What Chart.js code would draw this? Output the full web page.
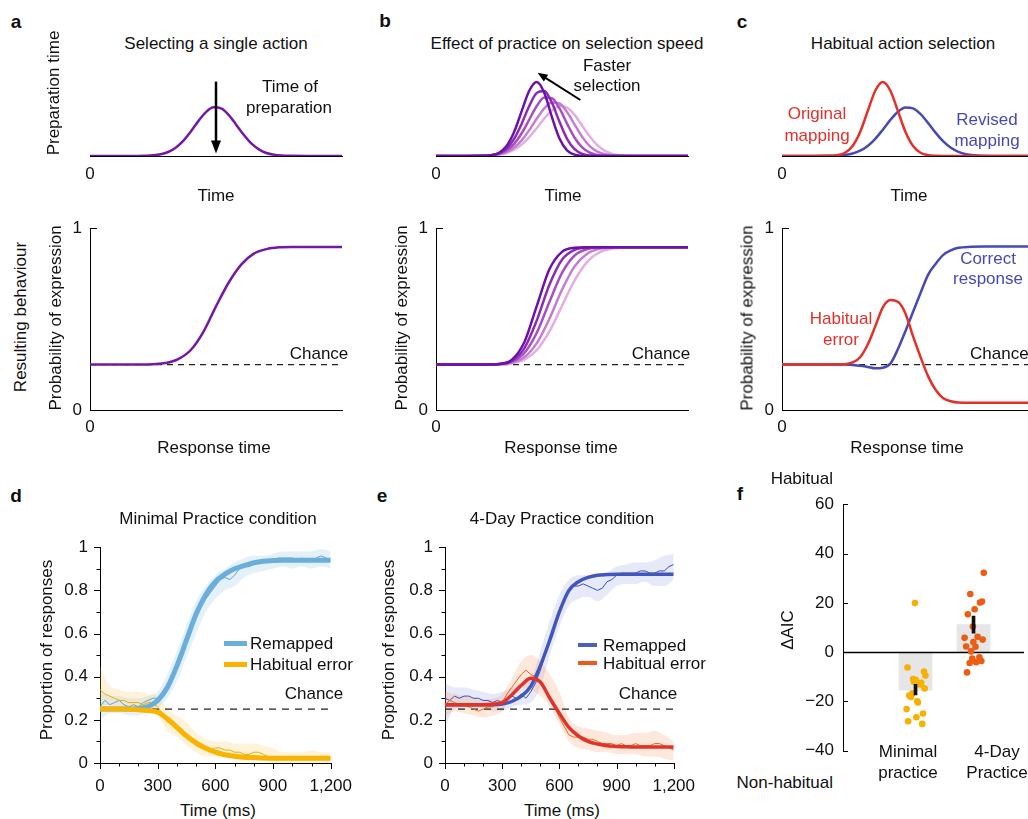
<!DOCTYPE html>
<html><head><meta charset="utf-8">
<script src="https://cdn.jsdelivr.net/npm/chart.js@4.4.0/dist/chart.umd.min.js"></script>
<style>
html,body{margin:0;padding:0;background:#fff}
body{width:1028px;height:819px;position:relative;overflow:hidden;font-family:'Liberation Sans',Arial,Helvetica,sans-serif;color:#111}
canvas{position:absolute}
</style></head><body>
<script>
// ---------------- DATA ----------------
// top row (preparation-time schematics), arbitrary time units 0..100
const gridTop = [0,10,19,22,25,28,31,34,37,40,43,46,49,52,55,58,61,64,67,70,73,76,79,90,100];
const prepA   = [0,0,0.001,0.003,0.008,0.021,0.050,0.104,0.190,0.306,0.436,0.548,0.608,0.595,0.515,0.392,0.265,0.157,0.083,0.038,0.016,0.006,0.002,0,0];
const prepB1  = [0,0,0.002,0.010,0.041,0.125,0.300,0.561,0.816,0.925,0.788,0.487,0.219,0.071,0.017,0.003,0,0,0,0,0,0,0,0,0];
const prepB2  = [0,0,0.002,0.010,0.033,0.093,0.214,0.404,0.625,0.789,0.814,0.665,0.427,0.215,0.085,0.026,0.006,0.001,0,0,0,0,0,0,0];
const prepB3  = [0,0,0.002,0.009,0.026,0.068,0.151,0.284,0.456,0.625,0.730,0.723,0.595,0.405,0.228,0.107,0.041,0.013,0.003,0.001,0,0,0,0,0];
const prepB4  = [0,0,0.002,0.007,0.021,0.049,0.105,0.196,0.323,0.468,0.596,0.668,0.656,0.550,0.393,0.239,0.124,0.055,0.021,0.007,0.002,0,0,0,0];
const prepB5  = [0,0,0.002,0.007,0.017,0.038,0.078,0.142,0.235,0.351,0.471,0.570,0.621,0.606,0.514,0.379,0.243,0.135,0.065,0.027,0.010,0.003,0.001,0,0];
const prepOriginal = [0,0,0.002,0.010,0.041,0.125,0.300,0.561,0.816,0.925,0.816,0.561,0.300,0.125,0.041,0.010,0.002,0,0,0,0,0,0,0,0];
const prepRevised  = [0,0,0.002,0.005,0.013,0.031,0.066,0.126,0.215,0.329,0.451,0.553,0.606,0.595,0.523,0.411,0.289,0.182,0.102,0.052,0.023,0.009,0.003,0,0];
// middle row (probability of expression)
const gridMid = [0,10,20,25,30,35,40,45,50,55,60,65,70,75,80,90,100];
const probA  = [0.25,0.25,0.25,0.252,0.258,0.28,0.33,0.43,0.57,0.70,0.80,0.86,0.885,0.895,0.897,0.897,0.897];
const probB1 = [0.25,0.25,0.25,0.253,0.275,0.371,0.573,0.774,0.870,0.892,0.895,0.895,0.895,0.895,0.895,0.895,0.895];
const probB2 = [0.25,0.25,0.25,0.253,0.270,0.338,0.493,0.689,0.827,0.881,0.893,0.895,0.895,0.895,0.895,0.895,0.895];
const probB3 = [0.25,0.25,0.25,0.252,0.265,0.312,0.425,0.594,0.754,0.850,0.885,0.894,0.895,0.895,0.895,0.895,0.895];
const probB4 = [0.25,0.25,0.25,0.252,0.260,0.290,0.368,0.502,0.661,0.790,0.860,0.887,0.894,0.895,0.895,0.895,0.895];
const probB5 = [0.25,0.25,0.25,0.251,0.257,0.277,0.330,0.432,0.573,0.713,0.815,0.868,0.888,0.894,0.895,0.895,0.895];
const gridMidC = [0,10,20,25,28,31,34,37,40,43,46,49,52,55,58,61,64,67,70,75,80,90,100];
const probCorrect  = [0.25,0.25,0.25,0.25,0.248,0.243,0.237,0.229,0.232,0.255,0.335,0.435,0.54,0.645,0.745,0.805,0.853,0.878,0.892,0.898,0.90,0.90,0.90];
const probHabitual = [0.25,0.25,0.25,0.252,0.262,0.29,0.36,0.46,0.565,0.605,0.595,0.53,0.405,0.29,0.185,0.11,0.065,0.048,0.041,0.04,0.04,0.04,0.04];
const chanceLevel = 0.25;
// bottom row: time in ms
const tFit = [0,50,100,150,200,250,300,350,400,450,500,550,600,650,700,750,800,850,900,950,1000,1050,1100,1150,1200];
const tRaw = [0,25,50,75,100,125,150,175,200,225,250,275,300,325,350,375,400,425,450,475,500,525,550,575,600,625,650,675,700,725,750,775,800,825,850,875,900,925,950,975,1000,1025,1050,1075,1100,1125,1150,1175,1200];
const xMajor = [0,300,600,900,1200];
const xMinor = [100,200,400,500,700,800,1000,1100];
const yMajor = [0,0.2,0.4,0.6,0.8,1];
const yMinor = [0.1,0.3,0.5,0.7,0.9];
// d: minimal practice
const dRemapFit = [0.25,0.25,0.25,0.25,0.253,0.262,0.29,0.35,0.45,0.57,0.69,0.78,0.84,0.875,0.90,0.915,0.928,0.935,0.938,0.94,0.94,0.94,0.94,0.94,0.94];
const dHabFit   = [0.25,0.25,0.25,0.249,0.247,0.243,0.235,0.205,0.165,0.125,0.093,0.068,0.05,0.038,0.031,0.027,0.025,0.023,0.022,0.022,0.022,0.022,0.022,0.022,0.022];
const dRemapRaw = [0.26,0.29,0.27,0.28,0.29,0.27,0.26,0.27,0.26,0.28,0.29,0.30,0.30,0.33,0.36,0.41,0.46,0.51,0.57,0.63,0.68,0.72,0.76,0.79,0.82,0.85,0.86,0.85,0.87,0.90,0.91,0.91,0.92,0.93,0.93,0.93,0.94,0.95,0.95,0.95,0.95,0.94,0.95,0.94,0.94,0.95,0.96,0.95,0.94];
const dHabRaw   = [0.34,0.32,0.31,0.30,0.29,0.29,0.28,0.28,0.28,0.27,0.28,0.28,0.26,0.23,0.19,0.18,0.17,0.16,0.13,0.10,0.08,0.07,0.06,0.06,0.07,0.07,0.06,0.06,0.05,0.05,0.04,0.04,0.05,0.05,0.04,0.03,0.03,0.02,0.02,0.02,0.02,0.02,0.02,0.02,0.02,0.02,0.02,0.02,0.02];
const dRemapHi = [0.33,0.31,0.31,0.30,0.30,0.31,0.33,0.41,0.52,0.64,0.75,0.82,0.87,0.90,0.93,0.95,0.96,0.96,0.97,0.98,0.98,0.98,0.98,0.99,0.98];
const dRemapLo = [0.20,0.23,0.23,0.22,0.22,0.24,0.26,0.30,0.38,0.49,0.60,0.70,0.76,0.80,0.82,0.86,0.88,0.89,0.90,0.91,0.90,0.91,0.90,0.91,0.90];
const dHabHi = [0.45,0.36,0.34,0.33,0.33,0.32,0.31,0.25,0.22,0.19,0.14,0.11,0.10,0.10,0.09,0.09,0.09,0.08,0.07,0.05,0.05,0.05,0.06,0.05,0.05];
const dHabLo = [0.25,0.27,0.25,0.24,0.24,0.24,0.22,0.15,0.12,0.08,0.05,0.03,0.03,0.03,0.02,0.01,0.01,0.01,0,0,0,0,0,0,0];
// e: 4-day practice
const eRemapFit = [0.27,0.27,0.27,0.27,0.27,0.27,0.273,0.285,0.31,0.355,0.45,0.57,0.70,0.80,0.84,0.86,0.87,0.873,0.875,0.875,0.875,0.875,0.875,0.875,0.875];
const eHabFit   = [0.27,0.27,0.27,0.27,0.27,0.272,0.28,0.315,0.36,0.393,0.375,0.30,0.23,0.165,0.125,0.10,0.088,0.08,0.077,0.075,0.074,0.074,0.074,0.074,0.074];
const eRemapRaw = [0.30,0.29,0.31,0.30,0.31,0.31,0.30,0.30,0.29,0.29,0.28,0.29,0.28,0.30,0.31,0.30,0.32,0.30,0.33,0.37,0.43,0.50,0.58,0.64,0.71,0.76,0.79,0.82,0.82,0.83,0.82,0.81,0.80,0.81,0.84,0.85,0.87,0.88,0.88,0.88,0.88,0.89,0.89,0.88,0.88,0.89,0.89,0.91,0.92];
const eHabRaw   = [0.27,0.29,0.28,0.27,0.27,0.26,0.25,0.24,0.25,0.26,0.26,0.28,0.28,0.32,0.35,0.38,0.41,0.43,0.41,0.40,0.38,0.35,0.30,0.26,0.21,0.17,0.13,0.12,0.12,0.12,0.11,0.11,0.10,0.09,0.09,0.09,0.08,0.09,0.08,0.08,0.09,0.08,0.08,0.08,0.09,0.09,0.08,0.07,0.06];
const eRemapHi = [0.37,0.35,0.35,0.34,0.33,0.32,0.33,0.35,0.37,0.39,0.52,0.66,0.78,0.85,0.87,0.87,0.86,0.88,0.91,0.92,0.93,0.93,0.94,0.96,0.97];
const eRemapLo = [0.17,0.25,0.26,0.26,0.25,0.24,0.24,0.26,0.27,0.28,0.35,0.50,0.63,0.73,0.76,0.77,0.75,0.78,0.82,0.83,0.83,0.84,0.82,0.82,0.85];
const eHabHi = [0.33,0.32,0.31,0.30,0.29,0.30,0.32,0.39,0.47,0.50,0.47,0.41,0.33,0.21,0.17,0.16,0.15,0.14,0.13,0.13,0.14,0.14,0.15,0.13,0.10];
const eHabLo = [0.21,0.24,0.23,0.22,0.21,0.22,0.24,0.31,0.35,0.34,0.31,0.26,0.18,0.10,0.07,0.06,0.05,0.05,0.04,0.04,0.04,0.03,0.03,0.02,0.01];
// f: ΔAIC per participant
const groupPos = [1,2];
const groupMean = [-15.4, 11.2];
const groupErrLo = [-17.3, 7.7];
const groupErrHi = [-13.0, 14.6];
const minimalJitter = [0.99,0.862,1.146,1.172,0.958,1.003,0.974,1.098,1.079,1.157,0.947,0.891,0.921,1.03,1.04,0.846,1.13,1.015,0.873,1.116];
const minimalAIC    = [19.9,-6.2,-7.9,-9.5,-10.9,-11.2,-12.1,-12.4,-13.1,-14.7,-16.7,-17.6,-18.2,-19.9,-20.4,-23.1,-24.9,-26.4,-28.0,-29.1];
const fourDayJitter = [2.176,1.944,2.146,2.112,2.019,1.902,1.989,1.846,2.071,2.157,1.997,1.873,2.034,1.958,2.101,1.978,2.135,1.933,2.045,1.888];
const fourDayAIC    = [32.2,23.6,20.5,20.1,17.4,15.4,10.4,5.8,6.2,5.1,4.1,2.3,2.2,0.3,-2.1,-2.6,-3.6,-4.4,-4.1,-8.2];
const aicTicks = [-40,-20,0,20,40,60];

// ---------------- HELPERS ----------------
const FONT = "'Liberation Sans', Arial, Helvetica, sans-serif";
Chart.defaults.font.family = FONT;
Chart.defaults.color = '#111';
Chart.defaults.animation = false;
Chart.defaults.responsive = false;
Chart.defaults.plugins.legend.display = false;
Chart.defaults.plugins.tooltip.enabled = false;

const pts = (xs, ys) => xs.map((x, i) => ({x, y: ys[i]}));
function mk(box){
  const c = document.createElement('canvas');
  c.width = box.r - box.l; c.height = box.b - box.t;
  c.style.left = box.l + 'px'; c.style.top = box.t + 'px';
  document.body.appendChild(c); return c;
}
function pad(box, area, yW, xH){
  return {padding:{left: area.l - box.l - yW, right: box.r - area.r, top: area.t - box.t, bottom: box.b - area.b - xH}};
}
function T(txt, x, y, o = {}){
  const d = document.createElement('div');
  d.textContent = txt;
  Object.assign(d.style, {position:'absolute', left:x+'px', top:y+'px', fontSize:(o.s||17)+'px', lineHeight:'1', whiteSpace:'nowrap'});
  if (o.b) d.style.fontWeight = 'bold';
  if (o.c) d.style.color = o.c;
  const ax = o.a === 'l' ? '0' : o.a === 'r' ? '-100%' : '-50%';
  d.style.transform = `translate(${ax},-50%)` + (o.r ? ' rotate(-90deg)' : '');
  document.body.appendChild(d);
}
function line(xs, ys, color, w, extra){
  return Object.assign({data: pts(xs, ys), borderColor: color, borderWidth: w, pointRadius: 0,
    cubicInterpolationMode: 'monotone', fill: false}, extra || {});
}
function tickMarks(marks){
  return {id:'tickMarks', afterDraw(ch){
    const ctx = ch.ctx, a = ch.chartArea;
    ctx.save(); ctx.strokeStyle = '#000'; ctx.lineWidth = 1;
    marks.forEach(m => {
      const s = ch.scales[m.axis];
      m.values.forEach(v => {
        const p = Math.round(s.getPixelForValue(v)) + 0.5;
        ctx.beginPath();
        if (m.axis === 'x'){ ctx.moveTo(p, a.bottom); ctx.lineTo(p, a.bottom + m.len * m.dir); }
        else { ctx.moveTo(a.left, p); ctx.lineTo(a.left + m.len * m.dir, p); }
        ctx.stroke();
      });
    });
    ctx.restore();
  }};
}
function arrows(list){
  return {id:'arrows', afterDatasetsDraw(ch){
    const ctx = ch.ctx, xs = ch.scales.x, ys = ch.scales.y;
    list.forEach(q => {
      const x1 = xs.getPixelForValue(q.x1), y1 = ys.getPixelForValue(q.y1);
      const x2 = xs.getPixelForValue(q.x2), y2 = ys.getPixelForValue(q.y2);
      const ang = Math.atan2(y2 - y1, x2 - x1), hl = q.hl, hw = q.hw;
      const c = Math.cos(ang), s = Math.sin(ang);
      ctx.save(); ctx.strokeStyle = '#000'; ctx.fillStyle = '#000'; ctx.lineWidth = q.w;
      ctx.beginPath(); ctx.moveTo(x1, y1); ctx.lineTo(x2 - hl * 0.8 * c, y2 - hl * 0.8 * s); ctx.stroke();
      ctx.beginPath(); ctx.moveTo(x2, y2);
      ctx.lineTo(x2 - hl * c + hw * s, y2 - hl * s - hw * c);
      ctx.lineTo(x2 - hl * c - hw * s, y2 - hl * s + hw * c);
      ctx.closePath(); ctx.fill(); ctx.restore();
    });
  }};
}
const border = {display:true, color:'#000', width:1};
const noGrid = {display:false, drawTicks:false};

// ---------------- TOP ROW ----------------
function topChart(box, area, xMax, datasets, arr){
  const xH = box.b - area.b;
  new Chart(mk(box), {type:'line', data:{datasets}, options:{
    devicePixelRatio:1, layout: pad(box, area, 0, xH),
    scales:{
      x:{type:'linear', min:0, max:xMax, grid:noGrid, border,
         ticks:{padding:8, font:{size:17}, color:'#111'},
         afterBuildTicks: s => { s.ticks = [{value:0}]; }, afterFit: s => { s.height = xH; }},
      y:{display:false, min:0, max:1.05}
    }}, plugins:[arrows(arr)]});
}
const purple = '#7418a8';
const purples = ['#6c12aa', '#8a2bb6', '#a64fc4', '#c47bd4', '#e2afe2'];
const red = '#e3312a', blue = '#4848b6';

topChart({l:60,t:60,r:360,b:190}, {l:90,r:342,t:72,b:156}, 100,
  [line(gridTop, prepA, purple, 2.5)],
  [{x1:50, y1:0.93, x2:50, y2:0.03, w:2.5, hl:13, hw:5}]);
topChart({l:406,t:60,r:706,b:190}, {l:436,r:688,t:72,b:156}, 100,
  [prepB1, prepB2, prepB3, prepB4, prepB5].map((d, i) => line(gridTop, d, purples[i], 2.5)),
  [{x1:57.3, y1:0.70, x2:40.3, y2:1.04, w:2, hl:10, hw:4}]);
topChart({l:752,t:60,r:1028,b:190}, {l:782,r:1028,t:72,b:156}, 97.6,
  [line(gridTop, prepOriginal, red, 2.5), line(gridTop, prepRevised, blue, 2.5)], []);

// ---------------- MIDDLE ROW ----------------
function midChart(box, area, xMax, grid, series, colors){
  const xH = box.b - area.b, yW = 24;
  const ds = series.map((d, i) => line(grid, d, colors[i], 2.5, {order: i + 1}));
  ds.push({data:[{x:0, y:chanceLevel}, {x:xMax, y:chanceLevel}], borderColor:'#222', borderWidth:1.2,
    borderDash:[6,5], pointRadius:0, order:50});
  new Chart(mk(box), {type:'line', data:{datasets: ds}, options:{
    devicePixelRatio:1, layout: pad(box, area, yW, xH),
    scales:{
      x:{type:'linear', min:0, max:xMax, grid:noGrid, border,
         ticks:{padding:7, font:{size:17}, color:'#111'},
         afterBuildTicks: s => { s.ticks = [{value:0}]; }, afterFit: s => { s.height = xH; }},
      y:{type:'linear', min:0, max:1, grid:noGrid, border,
         ticks:{padding:8, font:{size:17}, color:'#111'},
         afterBuildTicks: s => { s.ticks = [{value:0}, {value:1}]; }, afterFit: s => { s.width = yW; }}
    }}, plugins:[tickMarks([{axis:'y', values:[1], len:7, dir:1}])]});
}
midChart({l:50,t:210,r:360,b:440}, {l:90,r:342,t:226,b:410}, 100, gridMid, [probA], [purple]);
midChart({l:396,t:210,r:706,b:440}, {l:436,r:688,t:226,b:410}, 100, gridMid, [probB1, probB2, probB3, probB4, probB5], purples);
midChart({l:742,t:210,r:1028,b:440}, {l:782,r:1028,t:226,b:410}, 97.6, gridMidC, [probHabitual, probCorrect], [red, blue]);

// ---------------- BOTTOM d / e ----------------
function timeChart(box, area, s){
  const xH = box.b - area.b, yW = 44;
  const ds = [
    line(tFit, s.habFit, s.habColor, s.fitW, {order:1}),
    line(tFit, s.remapFit, s.remapColor, s.fitW, {order:2}),
    line(tRaw, s.habRaw, s.habRawColor, 1, {order:3, cubicInterpolationMode:'default', tension:0}),
    line(tRaw, s.remapRaw, s.remapRawColor, 1, {order:4, cubicInterpolationMode:'default', tension:0}),
    {data:[{x:0, y:chanceLevel}, {x:1200, y:chanceLevel}], borderColor:'#222', borderWidth:1.2, borderDash:[7,6], pointRadius:0, order:6},
    line(tFit, s.habHi, 'rgba(0,0,0,0)', 0, {order:7, fill:'+1', backgroundColor:s.habBand}),
    line(tFit, s.habLo, 'rgba(0,0,0,0)', 0, {order:8}),
    line(tFit, s.remapHi, 'rgba(0,0,0,0)', 0, {order:9, fill:'+1', backgroundColor:s.remapBand}),
    line(tFit, s.remapLo, 'rgba(0,0,0,0)', 0, {order:10})
  ];
  new Chart(mk(box), {type:'line', data:{datasets: ds}, options:{
    devicePixelRatio:1, layout: pad(box, area, yW, xH),
    scales:{
      x:{type:'linear', min:0, max:1200, grid:noGrid, border,
         ticks:{padding:13, font:{size:17}, color:'#111', callback: v => v.toLocaleString('en-US')},
         afterBuildTicks: sc => { sc.ticks = xMajor.map(v => ({value:v})); }, afterFit: sc => { sc.height = xH; }},
      y:{type:'linear', min:0, max:1, grid:noGrid, border,
         ticks:{padding:12, font:{size:17}, color:'#111', callback: v => String(Math.round(v * 10) / 10)},
         afterBuildTicks: sc => { sc.ticks = yMajor.map(v => ({value:v})); }, afterFit: sc => { sc.width = yW; }}
    }}, plugins:[tickMarks([
      {axis:'x', values:xMajor, len:6, dir:1}, {axis:'x', values:xMinor, len:3.5, dir:1},
      {axis:'y', values:yMajor, len:6, dir:-1}, {axis:'y', values:yMinor, len:3.5, dir:-1}])]});
}
timeChart({l:50,t:525,r:365,b:800}, {l:100,r:337,t:539,b:763}, {
  remapFit:dRemapFit, habFit:dHabFit, remapRaw:dRemapRaw, habRaw:dHabRaw,
  remapHi:dRemapHi, remapLo:dRemapLo, habHi:dHabHi, habLo:dHabLo, fitW:5,
  remapColor:'#6aaedc', habColor:'#f8b400', remapRawColor:'#5aa2d6', habRawColor:'#f0a800',
  remapBand:'rgba(120,180,228,0.2)', habBand:'rgba(250,195,70,0.2)'});
timeChart({l:395,t:525,r:708,b:800}, {l:445,r:680,t:539,b:763}, {
  remapFit:eRemapFit, habFit:eHabFit, remapRaw:eRemapRaw, habRaw:eHabRaw,
  remapHi:eRemapHi, remapLo:eRemapLo, habHi:eHabHi, habLo:eHabLo, fitW:3.5,
  remapColor:'#4356bd', habColor:'#e2322a', remapRawColor:'#3a4db8', habRawColor:'#f26418',
  remapBand:'rgba(90,110,205,0.15)', habBand:'rgba(248,140,80,0.2)'});

// ---------------- f ----------------
(function(){
  const box = {l:793,t:485,r:1028,b:770}, area = {l:843,r:1028,t:500,b:760}, yW = 44;
  const zeroLine = {id:'zero', afterDatasetDraw(ch, args){
    if (args.index !== 0) return;
    const ctx = ch.ctx, y = Math.round(ch.scales.y.getPixelForValue(0)) + 0.5;
    ctx.save(); ctx.strokeStyle = '#000'; ctx.lineWidth = 1.5;
    ctx.beginPath(); ctx.moveTo(ch.chartArea.left, y); ctx.lineTo(ch.chartArea.right, y); ctx.stroke(); ctx.restore();
  }};
  new Chart(mk(box), {type:'scatter', data:{datasets:[
    {type:'bar', data: groupPos.map((x, i) => ({x, y: groupMean[i]})), backgroundColor:'#e6e6e6',
     barThickness:33, grouped:false, order:4},
    {data: pts(minimalJitter, minimalAIC), backgroundColor:'#f7b000', borderWidth:0, pointRadius:3.3, order:3},
    {data: pts(fourDayJitter, fourDayAIC), backgroundColor:'#ec5c12', borderWidth:0, pointRadius:3.3, order:2},
    {type:'bar', data: groupPos.map((x, i) => ({x, y: [groupErrLo[i], groupErrHi[i]]})), backgroundColor:'#111',
     barThickness:3, grouped:false, order:1}
  ]}, options:{
    devicePixelRatio:1, layout: pad(box, area, yW, 0),
    scales:{
      x:{type:'linear', min:0.27, max:2.35, display:false},
      y:{type:'linear', min:-40, max:60, grid:noGrid, border,
         ticks:{padding:9, font:{size:17}, color:'#111', callback: v => v < 0 ? '\u2212' + Math.abs(v) : String(v)},
         afterBuildTicks: sc => { sc.ticks = aicTicks.map(v => ({value:v})); }, afterFit: sc => { sc.width = yW; }}
    }}, plugins:[zeroLine, tickMarks([{axis:'y', values:aicTicks, len:5, dir:1}])]});
})();

// ---------------- TEXT ----------------
const L = {b:true, s:19};
T('a',16,21,L); T('b',385,20,L); T('c',742,21,L); T('d',16,495,L); T('e',382,495,L); T('f',740,493,L);
T('Selecting a single action',216,43); T('Effect of practice on selection speed',567,43); T('Habitual action selection',903,43);
T('Time of',290,86); T('preparation',289,107);
T('Faster',607,65); T('selection',607,85);
T('Original',817,113,{c:red}); T('mapping',817,135,{c:red});
T('Revised',987,119,{c:blue}); T('mapping',987,140,{c:blue});
T('Time',216,195); T('Time',563,195); T('Time',909,195);
T('Preparation time',53,93,{r:true});
T('Resulting behaviour',20,317,{r:true});
T('Probability of expression',55,318,{r:true}); T('Probability of expression',401,318,{r:true}); T('Probability of expression',747,318,{r:true});
T('Response time',214,447); T('Response time',561,447); T('Response time',907,447);
T('Chance',319,353); T('Chance',661,353); T('Chance',970,353,{a:'l'});
T('Habitual',841,318,{c:red}); T('error',841,339,{c:red});
T('Correct',988,258,{c:blue}); T('response',988,278,{c:blue});
T('Minimal Practice condition',218,518); T('4-Day Practice condition',562,518);
T('Proportion of responses',46,650,{r:true}); T('Proportion of responses',388,650,{r:true});
T('Time (ms)',218,810); T('Time (ms)',562,810);
T('Remapped',250,643,{a:'l'}); T('Habitual error',250,664,{a:'l'});
T('Remapped',603,645,{a:'l'}); T('Habitual error',603,663,{a:'l'});
T('Chance',314,693); T('Chance',648,693);
T('Habitual',833,478,{a:'r'}); T('Non-habitual',833,782,{a:'r'});
T('\u0394AIC',787,630,{r:true});
T('Minimal',908,751); T('practice',908,772);
T('4-Day',997,751); T('Practice',997,772);
// legend swatches
function swatch(x1, x2, y, h, col){
  const d = document.createElement('div');
  Object.assign(d.style, {position:'absolute', left:x1+'px', top:(y - h/2)+'px', width:(x2-x1)+'px', height:h+'px', background:col});
  document.body.appendChild(d);
}
swatch(224,247,643,5,'#6aaedc'); swatch(224,247,664,5,'#f8b400');
swatch(578,597,645,4,'#4a5fc0'); swatch(578,597,663,4,'#f05a14');
</script>
</body></html>
